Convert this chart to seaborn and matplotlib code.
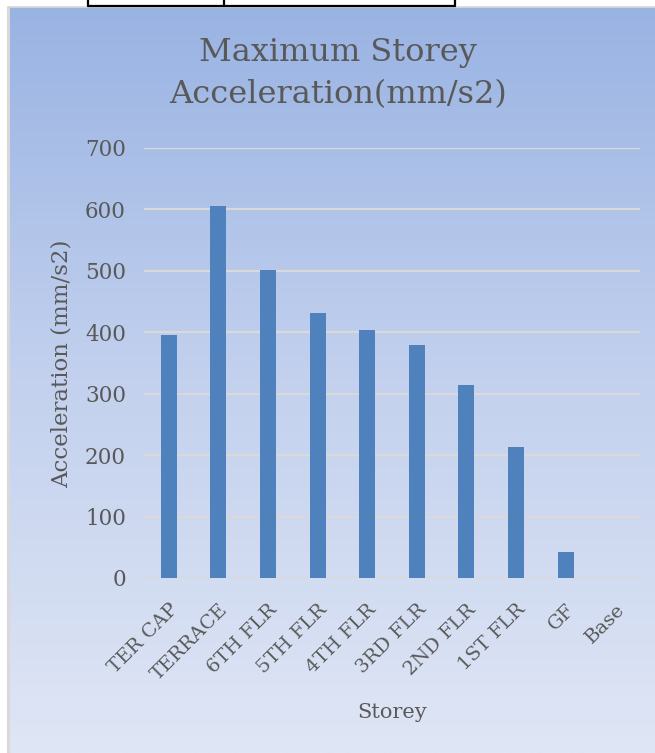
import numpy as np
import pandas as pd
import matplotlib
matplotlib.use("Agg")
import matplotlib.pyplot as plt
from matplotlib.lines import Line2D
from matplotlib.colors import LinearSegmentedColormap
import seaborn as sns

# Storey-wise peak acceleration
storeys = ["TER CAP", "TERRACE", "6TH FLR", "5TH FLR", "4TH FLR",
           "3RD FLR", "2ND FLR", "1ST FLR", "GF", "Base"]
acceleration = [396, 605, 502, 431, 403, 380, 314, 213, 43, 0]
y_ticks = [0, 100, 200, 300, 400, 500, 600, 700]

sns.set_theme(style="white")
plt.rcParams["font.family"] = ["DejaVu Serif"]

W, H = 655, 753
fig = plt.figure(figsize=(W / 100, H / 100), dpi=100)
fig.patch.set_facecolor("white")

text_col = "#595959"
grid_col = "#d9d9d9"

# chart panel with vertical gradient fill
panel_left, panel_top = 8, 7
bg = fig.add_axes([panel_left / W, 0, (W - panel_left) / W, (H - panel_top) / H])
cmap = LinearSegmentedColormap.from_list("panel", ["#99b3e3", "#c3d1ee", "#dfe6f5"])
grad = np.linspace(0, 1, 256).reshape(-1, 1)
bg.imshow(grad, aspect="auto", cmap=cmap, extent=[0, 1, 0, 1], origin="upper")
bg.set_xlim(0, 1)
bg.set_ylim(0, 1)
bg.axis("off")

# panel border (left and top)
fig.add_artist(Line2D([panel_left / W, panel_left / W], [0, 1 - panel_top / H],
                      color=grid_col, lw=2.2, transform=fig.transFigure))
fig.add_artist(Line2D([panel_left / W, 1], [1 - panel_top / H, 1 - panel_top / H],
                      color=grid_col, lw=1.2, transform=fig.transFigure))

# table rule above the chart
fig.add_artist(Line2D([88 / W, 455 / W], [1 - 6 / H, 1 - 6 / H],
                      color="black", lw=1.6, transform=fig.transFigure))
for xv in (88, 224, 455):
    fig.add_artist(Line2D([xv / W, xv / W], [1 - 6 / H, 1],
                          color="black", lw=1.6, transform=fig.transFigure))

# plot area
ax_l, ax_r, ax_t, ax_b = 144, 640, 148, 578
ax = fig.add_axes([ax_l / W, 1 - ax_b / H, (ax_r - ax_l) / W, (ax_b - ax_t) / H])
ax.set_facecolor("none")

df = pd.DataFrame({"Storey": storeys, "Acceleration": acceleration})
sns.barplot(data=df, x="Storey", y="Acceleration", color="#4f81bd",
            width=0.32, ax=ax, saturation=1, linewidth=0, zorder=3)

ax.set_ylim(0, 700)
ax.set_xlim(-0.5, len(storeys) - 0.5)
ax.set_yticks(y_ticks)
ax.set_yticklabels([str(v) for v in y_ticks])
for v in y_ticks:
    ax.axhline(v, color=grid_col, lw=1.6, zorder=1)
for s in ax.spines.values():
    s.set_visible(False)
ax.tick_params(axis="both", length=0, colors=text_col)
ax.tick_params(axis="y", pad=13, labelsize=15.5)
ax.tick_params(axis="x", pad=16, labelsize=14)
plt.setp(ax.get_xticklabels(), rotation=45, ha="right", va="top",
         rotation_mode="anchor")
ax.set_xlabel("")
ax.set_ylabel("")

fig.text(62 / W, 1 - 364 / H, "Acceleration (mm/s2)", rotation=90,
         ha="center", va="center", color=text_col, fontsize=16.5)
fig.text(392 / W, 1 - 712 / H, "Storey", ha="center", va="center",
         color=text_col, fontsize=15)

fig.text(338 / W, 1 - 52 / H, "Maximum Storey", ha="center", va="center",
         color=text_col, fontsize=23)
fig.text(338 / W, 1 - 95 / H, "Acceleration(mm/s2)", ha="center", va="center",
         color=text_col, fontsize=23)

fig.savefig("out.png", dpi=100)
